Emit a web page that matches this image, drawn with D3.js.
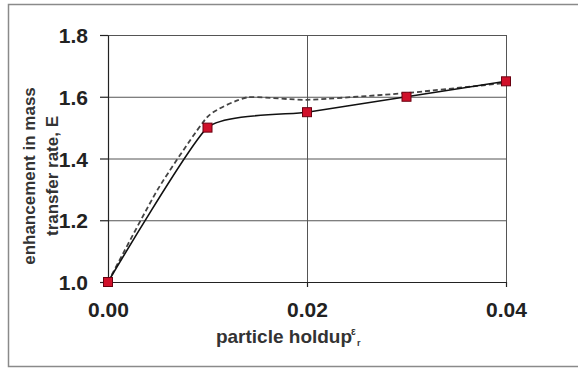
<!DOCTYPE html>
<meta charset="utf-8">
<body style="margin:0;background:#fff">
<script src="https://d3js.org/d3.v7.min.js"></script>
<script>
// measured points (squares + solid smooth line)
var holdup = [0.00, 0.01, 0.02, 0.03, 0.04];
var enhancement = [1.00, 1.50, 1.55, 1.60, 1.65];

// dashed curve
var modelHoldup = [0.000, 0.005, 0.010, 0.014, 0.020, 0.030, 0.040];
var modelE = [1.00, 1.30, 1.535, 1.598, 1.590, 1.612, 1.645];

var xTicks = [0.00, 0.02, 0.04];
var yTicks = [1.0, 1.2, 1.4, 1.6, 1.8];

var W = 578, H = 369;
var svg = d3.select("body").append("svg")
    .attr("width", W)
    .attr("height", H)
    .style("font-family", "'Liberation Sans', Arial, sans-serif");

// outer frame
svg.append("rect")
    .attr("x", 8.5).attr("y", 4.5)
    .attr("width", 600).attr("height", 362)
    .attr("fill", "none")
    .attr("stroke", "#8a8a8a")
    .attr("stroke-width", 1.5);

var x = d3.scaleLinear().domain([0, 0.04]).range([108, 506]);
var y = d3.scaleLinear().domain([1.0, 1.8]).range([282, 35]);

// grid
svg.append("g").selectAll("line")
    .data(yTicks.slice(1))
    .enter().append("line")
    .attr("x1", x(0)).attr("x2", x(0.04))
    .attr("y1", function(d) { return y(d) + 0.5; })
    .attr("y2", function(d) { return y(d) + 0.5; })
    .attr("stroke", "#555").attr("stroke-width", 1);

svg.append("g").selectAll("line")
    .data(xTicks.slice(1))
    .enter().append("line")
    .attr("x1", function(d) { return x(d) + 0.5; })
    .attr("x2", function(d) { return x(d) + 0.5; })
    .attr("y1", y(1.8)).attr("y2", y(1.0))
    .attr("stroke", "#555").attr("stroke-width", 1);

// axes
var xAxis = d3.axisBottom(x).tickValues(xTicks).tickFormat(d3.format(".2f"))
    .tickSizeInner(5).tickSizeOuter(0).tickPadding(15);
var yAxis = d3.axisLeft(y).tickValues(yTicks).tickFormat(d3.format(".1f"))
    .tickSizeInner(8).tickSizeOuter(0).tickPadding(12);

var gx = svg.append("g")
    .attr("transform", "translate(0," + y(1.0) + ")")
    .call(xAxis);
var gy = svg.append("g")
    .attr("transform", "translate(" + x(0) + ",0)")
    .call(yAxis);

[gx, gy].forEach(function(g) {
  g.selectAll("path, line").attr("stroke", "#222").attr("stroke-width", 1.2);
  g.selectAll("text")
    .attr("fill", "#222")
    .style("font-size", "21px")
    .style("font-weight", "bold");
});
gy.selectAll("text").attr("dy", "0.36em");

var line = d3.line()
    .x(function(d) { return x(d[0]); })
    .y(function(d) { return y(d[1]); })
    .curve(d3.curveCardinal.tension(0.5));

// dashed curve
svg.append("path")
    .datum(d3.zip(modelHoldup, modelE))
    .attr("d", line)
    .attr("fill", "none")
    .attr("stroke", "#444")
    .attr("stroke-width", 1.8)
    .attr("stroke-dasharray", "5,3");

// solid curve
svg.append("path")
    .datum(d3.zip(holdup, enhancement))
    .attr("d", line)
    .attr("fill", "none")
    .attr("stroke", "#111")
    .attr("stroke-width", 1.6);

// markers
svg.append("g").selectAll("rect")
    .data(d3.zip(holdup, enhancement))
    .enter().append("rect")
    .attr("x", function(d) { return x(d[0]) - 4.5; })
    .attr("y", function(d) { return y(d[1]) - 4.5; })
    .attr("width", 9).attr("height", 9)
    .attr("fill", "#d0102a")
    .attr("stroke", "#6a0010")
    .attr("stroke-width", 1);

// axis titles
svg.append("text")
    .attr("x", 284).attr("y", 343)
    .attr("text-anchor", "middle")
    .attr("fill", "#333")
    .style("font-size", "19px")
    .style("font-weight", "bold")
    .text("particle holdup");
svg.append("text")
    .attr("x", 351).attr("y", 335)
    .attr("fill", "#333")
    .style("font-size", "10px")
    .style("font-weight", "bold")
    .text("ε");
svg.append("text")
    .attr("x", 357).attr("y", 346)
    .attr("fill", "#333")
    .style("font-size", "9px")
    .style("font-weight", "bold")
    .text("r");

var yt = svg.append("text")
    .attr("transform", "translate(35,176) rotate(-90)")
    .attr("text-anchor", "middle")
    .attr("fill", "#333")
    .style("font-size", "17px")
    .style("font-weight", "bold");
yt.append("tspan").attr("x", 0).attr("y", 0).text("enhancement in mass");
yt.append("tspan").attr("x", 0).attr("y", 23).text("transfer rate, E");
</script>
</body>
